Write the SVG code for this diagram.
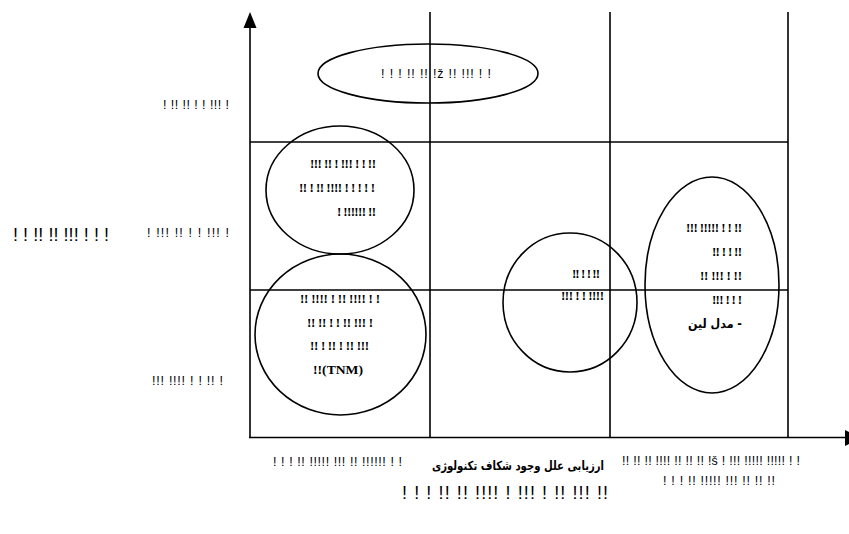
<svg xmlns="http://www.w3.org/2000/svg" width="849" height="534" viewBox="0 0 849 534">
<style>
.ln{stroke:#000;stroke-width:1.6;fill:none}
.el{stroke:#000;stroke-width:1.6;fill:none}
.s{font-family:"Liberation Sans",Arial,sans-serif;font-size:12.5px;fill:#000}
.b{font-family:"Liberation Serif","Times New Roman",serif;font-size:13px;font-weight:bold;fill:#000}
.fa{font-family:"DejaVu Sans","Noto Sans",sans-serif;font-size:12.5px;font-weight:bold;fill:#000}
.big{font-family:"Liberation Sans",Arial,sans-serif;font-size:18px;fill:#000}
</style>
<rect width="849" height="534" fill="#fff"/>
<g id="connectors">
<line class="ln" x1="250" y1="26" x2="250" y2="438"/>
<polygon points="250,12 243.5,28 256.5,28" fill="#000"/>
<line class="ln" x1="249" y1="437.5" x2="847" y2="437.5"/>
<polygon points="845,430 845,446 861,438" fill="#000"/>
<line class="ln" x1="430" y1="12" x2="430" y2="437"/>
<line class="ln" x1="610" y1="12" x2="610" y2="437"/>
<line class="ln" x1="788" y1="12" x2="788" y2="437"/>
<line class="ln" x1="250" y1="142" x2="788" y2="142"/>
<line class="ln" x1="250" y1="290" x2="788" y2="290"/>
</g>
<g id="axis-labels">
<text class="s" x="229" y="109" text-anchor="end" textLength="66" lengthAdjust="spacing">! !! !! ! ! !!! !</text>
<text class="s" x="229" y="237" text-anchor="end" textLength="82" lengthAdjust="spacing">! !!!  !! ! ! !!! !</text>
<text class="s" x="223" y="385" text-anchor="end" textLength="71" lengthAdjust="spacing">!!! !!!! ! !  !! !</text>
<text class="big" x="13" y="241" textLength="96" lengthAdjust="spacing">! ! !! !! !!! ! ! !</text>
<text class="s" x="273" y="466" textLength="129" lengthAdjust="spacing">! ! ! !! !!!!!  !!! !!  !!!!!! ! !</text>
<text class="fa" x="518" y="470" text-anchor="middle" textLength="172" lengthAdjust="spacingAndGlyphs">ارزیابی علل وجود شکاف تکنولوژی</text>
<text class="s" x="622" y="465" textLength="178" lengthAdjust="spacing">!! !! !! !!!! !! !! !! !š ! !!! !!!!! !!!!! ! !</text>
<text class="s" x="663" y="485" textLength="112" lengthAdjust="spacing">! ! ! !! !!!!!  !!! !! !! !!</text>
<text class="big" x="402" y="499" textLength="206" lengthAdjust="spacing">! ! ! !! !! !!!! ! !!! ! !! !!!  !!</text>
</g>
<g id="node-top">
<ellipse class="el" cx="428" cy="73.5" rx="110" ry="29.5"/>
<text class="s" x="381" y="78" textLength="110" lengthAdjust="spacing">! ! ! !! !! !ž  !! !!! ! !</text>
</g>
<g id="node-upper-left">
<ellipse class="el" cx="340" cy="190" rx="74" ry="64"/>
<text class="b" x="376" y="168" text-anchor="end" textLength="66" lengthAdjust="spacing">!!! !! ! !!! ! ! !!</text>
<text class="b" x="375" y="192" text-anchor="end" textLength="76" lengthAdjust="spacing">!! ! !! !!!! ! ! ! ! !</text>
<text class="b" x="376" y="216" text-anchor="end" textLength="39" lengthAdjust="spacing">! !!!!!! !!</text>
</g>
<g id="node-lower-left">
<ellipse class="el" cx="340.5" cy="334.5" rx="85.5" ry="80.5"/>
<text class="b" x="300" y="303" textLength="80" lengthAdjust="spacing">!! !!!! ! !! !!!! ! !</text>
<text class="b" x="307" y="327" textLength="66" lengthAdjust="spacing">!! !! ! ! !! !!! !</text>
<text class="b" x="310" y="350" textLength="59" lengthAdjust="spacing">!! ! !! ! !! !!!</text>
<text class="b" x="313" y="374" textLength="50" lengthAdjust="spacingAndGlyphs">!!(TNM)</text>
</g>
<g id="node-middle">
<ellipse class="el" cx="570" cy="302.5" rx="67" ry="69.5"/>
<text class="b" x="600" y="278" text-anchor="end" textLength="28" lengthAdjust="spacing">!! ! ! !!</text>
<text class="b" x="604" y="300" text-anchor="end" textLength="43" lengthAdjust="spacing">!!! ! ! !!!!</text>
</g>
<g id="node-right">
<ellipse class="el" cx="712" cy="285" rx="67" ry="108"/>
<text class="b" x="742" y="232" text-anchor="end" textLength="56" lengthAdjust="spacing">!!! !!!!! ! ! !!</text>
<text class="b" x="742" y="256" text-anchor="end" textLength="30" lengthAdjust="spacing">!! ! ! !!</text>
<text class="b" x="742" y="280" text-anchor="end" textLength="42" lengthAdjust="spacing">!! !!! ! !!</text>
<text class="b" x="742" y="304" text-anchor="end" textLength="30" lengthAdjust="spacing">!!! ! ! !</text>
<text class="fa" x="742" y="328" text-anchor="end" textLength="54" lengthAdjust="spacingAndGlyphs">مدل لین -</text>
</g>
</svg>
